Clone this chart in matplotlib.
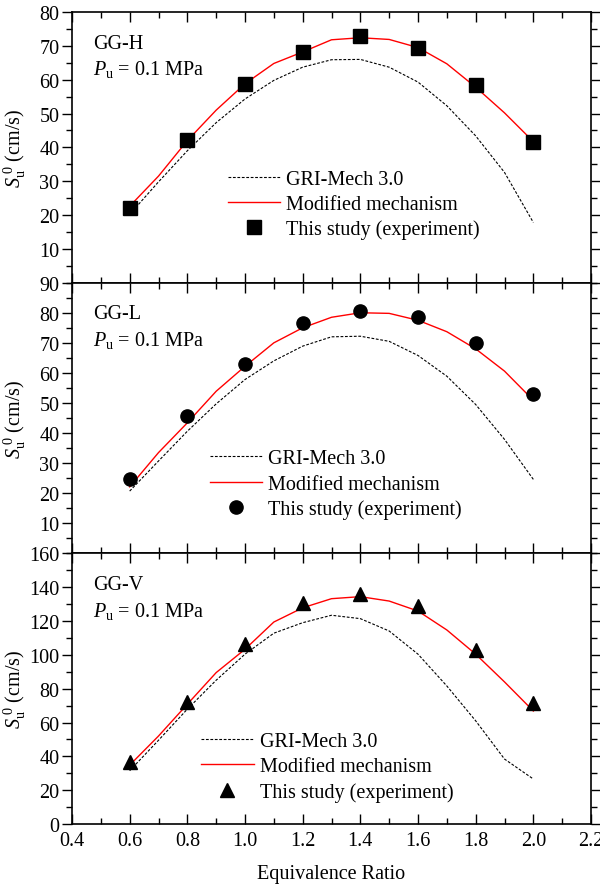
# 三段层叠的层流火焰速度对比图
import numpy as np
import matplotlib
matplotlib.use("Agg")
import matplotlib.pyplot as plt
from matplotlib.ticker import MultipleLocator, FormatStrFormatter

plt.rcParams["font.family"] = ["Liberation Serif", "DejaVu Serif"]
plt.rcParams["mathtext.fontset"] = "custom"
plt.rcParams["mathtext.rm"] = "Liberation Serif"
plt.rcParams["mathtext.it"] = "Liberation Serif:italic"

phi_sim = [0.6, 0.7, 0.8, 0.9, 1.0, 1.1, 1.2, 1.3, 1.4, 1.5, 1.6, 1.7, 1.8, 1.9, 2.0]
phi_exp = [0.6, 0.8, 1.0, 1.2, 1.4, 1.6, 1.8, 2.0]

# GG-H
h_gri = [20.2, 29.8, 39.0, 47.3, 54.3, 59.8, 63.7, 65.9, 66.0, 63.7, 59.3, 52.3, 43.4, 32.6, 17.8]
h_mod = [22.6, 31.5, 42.0, 51.0, 58.8, 64.8, 68.2, 71.8, 72.4, 71.9, 69.5, 64.7, 57.8, 50.2, 41.7]
h_exp = [22.0, 42.2, 58.8, 68.2, 73.0, 69.5, 58.3, 41.6]

# GG-L
l_gri = [20.7, 30.7, 40.6, 49.7, 57.8, 64.0, 68.9, 72.0, 72.2, 70.5, 65.8, 58.9, 49.5, 37.9, 24.6]
l_mod = [22.1, 33.5, 43.4, 53.9, 62.2, 70.0, 75.0, 78.5, 80.0, 79.8, 77.5, 73.7, 68.0, 60.6, 50.9]
l_exp = [24.6, 45.6, 63.0, 76.6, 80.5, 78.6, 70.0, 53.0]

# GG-V
v_gri = [31.5, 49.5, 67.9, 85.0, 100.4, 112.8, 119.0, 123.4, 121.4, 114.1, 100.4, 81.6, 61.0, 38.4, 26.6]
v_mod = [34.8, 52.0, 70.8, 89.5, 103.3, 119.4, 127.8, 133.2, 134.4, 131.8, 125.9, 114.7, 100.4, 84.0, 66.8]
v_exp = [36.8, 72.4, 106.7, 130.5, 135.8, 128.9, 102.9, 71.4]

panels = [
    ("GG-H", h_gri, h_mod, h_exp, "s", (0, 80), 10, 5, (0.30, 0.289)),
    ("GG-L", l_gri, l_mod, l_exp, "o", (0, 90), 10, 5, (0.266, 0.255)),
    ("GG-V", v_gri, v_mod, v_exp, "^", (0, 160), 20, 10, (0.249, 0.210)),
]

fs = 14.5
fig = plt.figure(figsize=(6, 8.87), dpi=100)
gs = fig.add_gridspec(3, 1, left=0.12, right=0.985, bottom=0.0699, top=0.9853, hspace=0)

for i, (name, gri, mod, exp, mk, ylim, major, minor, legpos) in enumerate(panels):
    ax = fig.add_subplot(gs[i])
    ax.plot(phi_sim, gri, color="black", lw=0.8, dashes=(2.5, 1.5), label="GRI-Mech 3.0")
    ax.plot(phi_sim, mod, color="red", lw=1.0, label="Modified mechanism")
    ax.plot(phi_exp, exp, mk, color="black", ms=9.5, ls="none", label="This study (experiment)")

    ax.set_xlim(0.4, 2.2)
    ax.set_ylim(*ylim)
    ax.xaxis.set_major_locator(MultipleLocator(0.2))
    ax.xaxis.set_minor_locator(MultipleLocator(0.1))
    ax.set_yticks(np.arange(0 if i == 2 else major, ylim[1] + 1, major))
    ax.yaxis.set_minor_locator(MultipleLocator(minor))
    ax.tick_params(axis="x", which="both", direction="in", top=True, bottom=True)
    ax.tick_params(axis="y", which="both", direction="out", left=True, right=True)
    ax.tick_params(which="major", length=7, width=1, labelsize=fs, pad=2)
    ax.tick_params(which="minor", length=4, width=1)
    for s in ax.spines.values():
        s.set_linewidth(1.2)
    if i < 2:
        ax.tick_params(axis="x", labelbottom=False)
    else:
        ax.xaxis.set_major_formatter(FormatStrFormatter("%.1f"))
        ax.tick_params(axis="x", pad=5)
        ax.set_xlabel("Equivalence Ratio", fontsize=fs, labelpad=10)

    ax.set_ylabel(r"$S_\mathrm{u}^{\;0}$ (cm/s)", fontsize=fs)
    ax.yaxis.set_label_coords(-0.085, 0.5)

    ax.text(0.04, 0.885, name, transform=ax.transAxes, fontsize=fs, va="center")
    ax.text(0.04, 0.79, r"$P_\mathrm{u}$ = 0.1 MPa", transform=ax.transAxes, fontsize=fs, va="center")

    ax.legend(loc="center left", bbox_to_anchor=legpos, frameon=False, fontsize=fs,
              handlelength=2.6, handletextpad=0.3, labelspacing=0.3, borderpad=0, borderaxespad=0)

plt.savefig("out.png", dpi=100)
